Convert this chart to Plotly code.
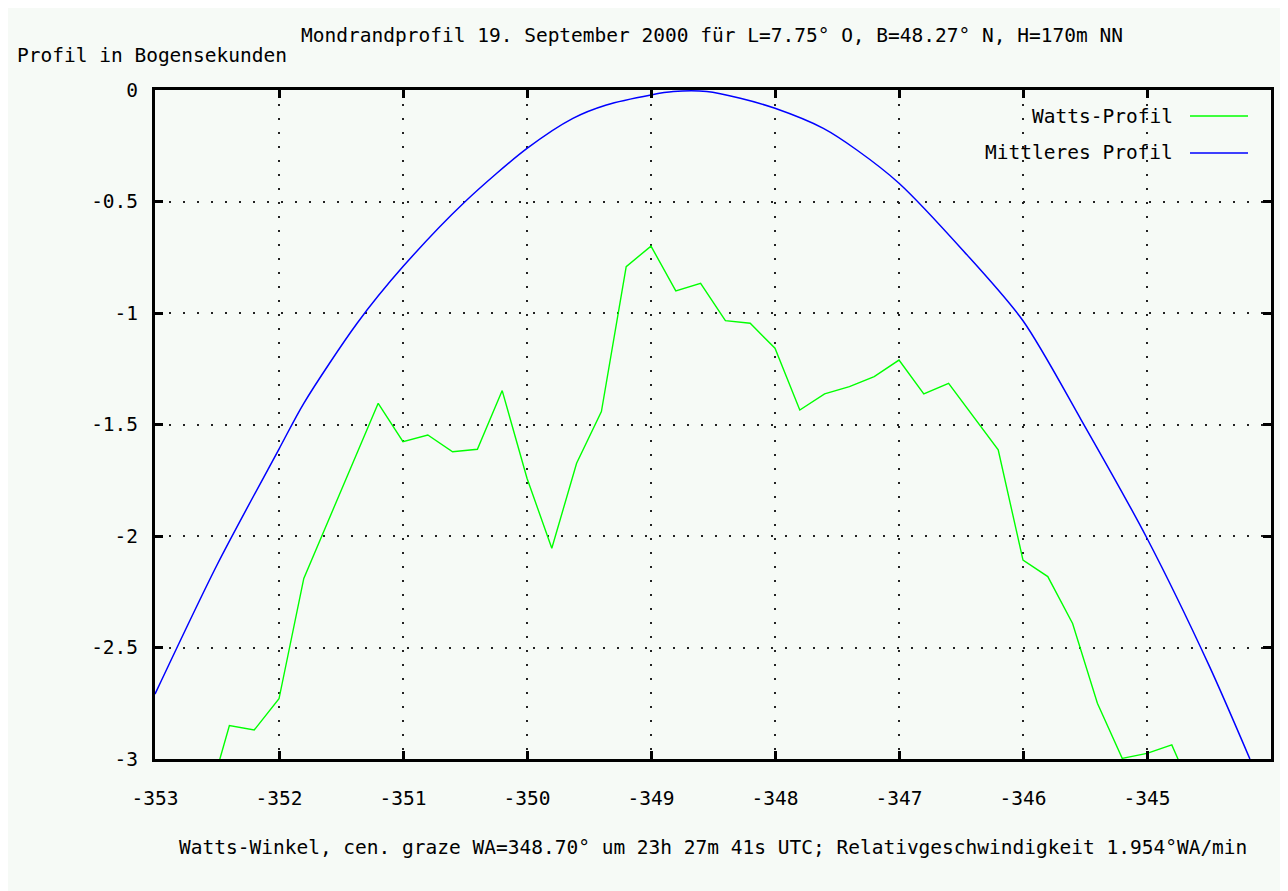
import plotly.graph_objects as go

# Watts-Profil (green)
watts_x = [-352.6, -352.4, -352.2, -352.0, -351.8, -351.2, -351.0, -350.8, -350.6, -350.4,
           -350.2, -350.0, -349.8, -349.6, -349.4, -349.2, -349.0, -348.8, -348.6, -348.4,
           -348.2, -348.0, -347.8, -347.6, -347.4, -347.2, -347.0, -346.8, -346.6, -346.2,
           -346.0, -345.8, -345.6, -345.4, -345.2, -345.0, -344.8, -344.6]
watts_y = [-3.24, -2.85, -2.87, -2.73, -2.19, -1.405, -1.577, -1.547, -1.622, -1.611,
           -1.348, -1.741, -2.055, -1.674, -1.442, -0.792, -0.700, -0.901, -0.867, -1.034,
           -1.046, -1.158, -1.435, -1.363, -1.330, -1.285, -1.211, -1.363, -1.315, -1.614,
           -2.108, -2.182, -2.392, -2.750, -2.997, -2.975, -2.937, -3.19]

# Mittleres Profil (blue)
mean_x = [-353.0, -352.5, -352.0, -351.8, -351.37, -351.0, -350.5, -350.0, -349.63, -349.36,
          -349.0, -348.82, -348.55, -348.28, -348.0, -347.61, -347.34, -347.0, -346.48, -346.0,
          -345.53, -345.0, -344.5, -344.17]
mean_y = [-2.709, -2.13, -1.61, -1.405, -1.046, -0.792, -0.501, -0.262, -0.127, -0.067,
          -0.022, -0.007, -0.007, -0.037, -0.082, -0.172, -0.269, -0.418, -0.722, -1.035,
          -1.48, -2.01, -2.58, -3.0]

x_ticks = [-353, -352, -351, -350, -349, -348, -347, -346, -345]
y_ticks = [0, -0.5, -1, -1.5, -2, -2.5, -3]
y_tick_labels = ["0", "-0.5", "-1", "-1.5", "-2", "-2.5", "-3"]

series_names = ["Watts-Profil", "Mittleres Profil"]
series_colors = ["#00ff00", "#0000ff"]

title_text = "Mondrandprofil 19. September 2000 für L=7.75° O, B=48.27° N, H=170m NN"
y_title = "Profil in Bogensekunden"
x_title = "Watts-Winkel, cen. graze WA=348.70° um 23h 27m 41s UTC; Relativgeschwindigkeit 1.954°WA/min"

FONT = "DejaVu Sans Mono"
FS = 19.5
BG = "#f6faf6"
OFF = 8  # page body margin

fig = go.Figure()
fig.add_trace(go.Scatter(x=watts_x, y=watts_y, mode="lines", name=series_names[0],
                         line=dict(color=series_colors[0], width=1.4), showlegend=False))
fig.add_trace(go.Scatter(x=mean_x, y=mean_y, mode="lines", name=series_names[1],
                         line=dict(color=series_colors[1], width=1.5, shape="spline",
                                   smoothing=0.8), showlegend=False))

axis_common = dict(
    showline=True, linecolor="black", linewidth=3, mirror="ticks",
    ticks="inside", ticklen=8, tickwidth=3, tickcolor="black",
    showgrid=True, gridcolor="#222222", gridwidth=1.6, griddash="2px,12px",
    zeroline=False, tickfont=dict(family=FONT, size=FS, color="black"),
)

fig.update_xaxes(range=[-353, -344], tickvals=x_ticks,
                 ticktext=[str(v) for v in x_ticks], ticklabelstandoff=20, **axis_common)
fig.update_yaxes(range=[-3, 0], tickvals=y_ticks, ticktext=y_tick_labels,
                 ticklabelstandoff=10, **axis_common)

annots = [
    dict(text=y_title, xref="paper", yref="paper", x=-0.1254, y=1.0523,
         xanchor="left", yanchor="middle", showarrow=False,
         font=dict(family=FONT, size=FS, color="black")),
    dict(text=x_title, xref="paper", yref="paper", x=0.5, y=-0.133,
         xanchor="center", yanchor="middle", showarrow=False,
         font=dict(family=FONT, size=FS, color="black")),
]
legend_y = [0.961, 0.906]
shapes = []
for name, col, ly in zip(series_names, series_colors, legend_y):
    annots.append(dict(text=name, xref="paper", yref="paper", x=0.914, y=ly,
                       xanchor="right", yanchor="middle", showarrow=False,
                       font=dict(family=FONT, size=FS, color="black")))
    shapes.append(dict(type="line", xref="paper", yref="paper", x0=0.9274, x1=0.9794,
                       y0=ly, y1=ly, line=dict(color=col, width=1.5)))

fig.update_layout(
    width=1288, height=891,
    margin=dict(l=155 - OFF, r=17 + OFF, t=90 - OFF, b=132 + OFF),
    paper_bgcolor=BG, plot_bgcolor=BG,
    title=dict(text=title_text, x=(712 - OFF) / 1288, y=1 - (35 - OFF) / 891,
               xanchor="center", yanchor="middle",
               font=dict(family=FONT, size=FS, color="black")),
    annotations=annots, shapes=shapes,
)

fig.write_html("out.html")
